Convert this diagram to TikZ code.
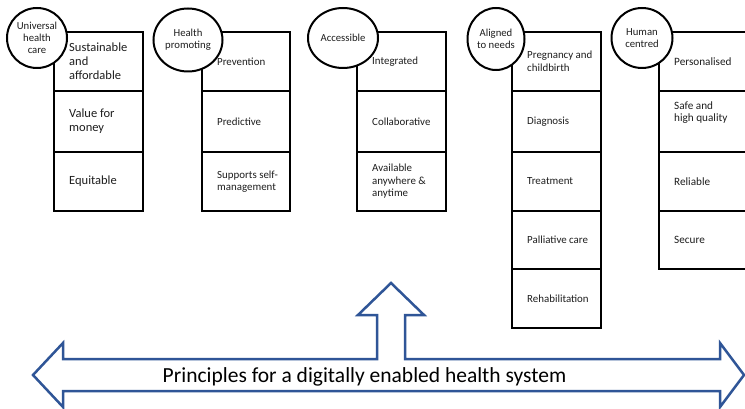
\documentclass[tikz,border=0pt]{standalone}
\usepackage{fontspec}
\setmainfont{Carlito}
\usetikzlibrary{shapes.geometric}
\definecolor{arrowblue}{RGB}{47,85,151}
\definecolor{txtgray}{RGB}{30,30,30}
\begin{document}
\begin{tikzpicture}[x=1pt,y=-1pt,
  cell/.style={draw, line width=2pt, minimum width=89pt, anchor=north west, inner sep=0pt, outer sep=0pt},
  ctext/.style={anchor=west, align=left, inner sep=0pt, xshift=15pt, text=txtgray},
  bubble/.style={ellipse, draw, line width=2pt, fill=white, inner sep=0pt, align=center, text=txtgray,
    font=\fontsize{10.7}{12}\selectfont},
  fA/.style={font=\fontsize{12.5}{14}\selectfont},
  fB/.style={font=\fontsize{10.9}{12.5}\selectfont},
  fC/.style={font=\fontsize{11.2}{12}\selectfont},
  bigarrow/.style={draw=arrowblue, line width=2.5pt, fill=white, line join=miter}
]
\useasboundingbox (0,0) rectangle (745,409);
\fill[white] (0,0) rectangle (745,409);
\clip (0,0) rectangle (745,409);

% Column 1
\node[cell, minimum height=59pt] (c11) at (54,32) {};
\node[cell, minimum height=61pt] (c12) at (c11.south west) {};
\node[cell, minimum height=59pt] (c13) at (c12.south west) {};
\node[ctext, fA] (t11) at (c11.west) {Sustainable\\and\\affordable};
\node[ctext, fA] (t12) at (c12.west) {Value for\\money};
\node[ctext, fA] (t13) at (c13.west) {Equitable};

% Column 2
\node[cell, minimum width=88pt, minimum height=59pt] (c21) at (202,32) {};
\node[cell, minimum width=88pt, minimum height=61pt] (c22) at (c21.south west) {};
\node[cell, minimum width=88pt, minimum height=59pt] (c23) at (c22.south west) {};
\node[ctext, fB] (t21) at (c21.west) {Prevention};
\node[ctext, fB] (t22) at (c22.west) {Predictive};
\node[ctext, fB] (t23) at (c23.west) {Supports self-\\management};

% Column 3
\node[cell, minimum height=59pt] (c31) at (357,32) {};
\node[cell, minimum height=61pt] (c32) at (c31.south west) {};
\node[cell, minimum height=59pt] (c33) at (c32.south west) {};
\node[ctext, fB] (t31) at (c31.west) {Integrated};
\node[ctext, fB] (t32) at (c32.west) {Collaborative};
\node[ctext, fB] (t33) at (c33.west) {Available\\anywhere \&\\anytime};

% Column 4
\node[cell, minimum height=59pt] (c41) at (512,32) {};
\node[cell, minimum height=61pt] (c42) at (c41.south west) {};
\node[cell, minimum height=59pt] (c43) at (c42.south west) {};
\node[cell, minimum height=58pt] (c44) at (c43.south west) {};
\node[cell, minimum height=59pt] (c45) at (c44.south west) {};
\node[ctext, fB] (t41) at (c41.west) {Pregnancy and\\childbirth};
\node[ctext, fB] (t42) at (c42.west) {Diagnosis};
\node[ctext, fB] (t43) at (c43.west) {Treatment};
\node[ctext, fB] (t44) at (c44.west) {Palliative care};
\node[ctext, fB] (t45) at (c45.west) {Rehabilitation};

% Column 5
\node[cell, minimum height=59pt] (c51) at (659,32) {};
\node[cell, minimum height=61pt] (c52) at (c51.south west) {};
\node[cell, minimum height=59pt] (c53) at (c52.south west) {};
\node[cell, minimum height=58pt] (c54) at (c53.south west) {};
\node[ctext, fC] (t51) at (c51.west) {Personalised};
\node[ctext, fC, yshift=9pt] (t52) at (c52.west) {Safe and\\high quality};
\node[ctext, fC] (t53) at (c53.west) {Reliable};
\node[ctext, fC] (t54) at (c54.west) {Secure};

% Bubbles
\node[bubble, minimum width=60pt, minimum height=60pt] (b1) at (37,38) {Universal\\health\\care};
\node[bubble, minimum width=69pt, minimum height=63pt] (b2) at (188,40) {Health\\promoting};
\node[bubble, minimum width=70pt, minimum height=60pt] (b3) at (343,38) {Accessible};
\node[bubble, minimum width=57pt, minimum height=62pt] (b4) at (496,39) {Aligned\\to needs};
\node[bubble, minimum width=61pt, minimum height=60pt] (b5) at (642,38) {Human\\centred};

% Big arrow
\draw[bigarrow] (33,375) -- (63,343) -- (63,359) -- (377,359) -- (377,315) -- (358,315)
  -- (391,283) -- (424,315) -- (405,315) -- (405,359) -- (720,359) -- (720,343)
  -- (744,375) -- (720,407) -- (720,391) -- (63,391) -- (63,407) -- cycle;

\node[anchor=base, inner sep=0pt, font=\fontsize{21.5}{24}\selectfont] (title) at (364.5,382)
  {Principles for a digitally enabled health system};
\end{tikzpicture}
\end{document}
